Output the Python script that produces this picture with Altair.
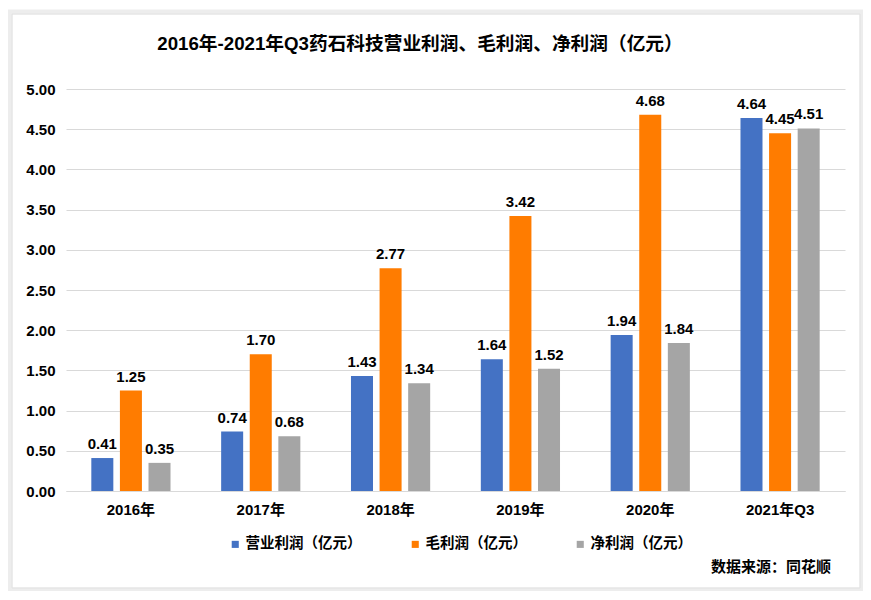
import altair as alt
import pandas as pd

years = ["2016年", "2017年", "2018年", "2019年", "2020年", "2021年Q3"]
series = ["营业利润（亿元）", "毛利润（亿元）", "净利润（亿元）"]
op_profit = [0.41, 0.74, 1.43, 1.64, 1.94, 4.64]
gross_profit = [1.25, 1.70, 2.77, 3.42, 4.68, 4.45]
net_profit = [0.35, 0.68, 1.34, 1.52, 1.84, 4.51]
colors = ["#4472C4", "#FF7C00", "#A5A5A5"]
y_ticks = [0, 0.5, 1, 1.5, 2, 2.5, 3, 3.5, 4, 4.5, 5]

rows = []
for i, y in enumerate(years):
    for s, vals in zip(series, [op_profit, gross_profit, net_profit]):
        rows.append({"year": y, "series": s, "value": vals[i]})
df = pd.DataFrame(rows)

FONT = "Liberation Sans, Noto Sans CJK SC, sans-serif"
W, H = 779, 402

x = alt.X("year:N", sort=years, title=None,
          scale=alt.Scale(paddingInner=0.39, paddingOuter=0.195),
          axis=alt.Axis(labelAngle=0, labelFontWeight="bold", labelFontSize=15,
                        labelColor="#000", labelPadding=11, ticks=False,
                        domainColor="#d9d9d9", grid=False, labelFont=FONT))
xo = alt.XOffset("series:N", sort=series, scale=alt.Scale(paddingInner=0.23))
y = alt.Y("value:Q", title=None,
          scale=alt.Scale(domain=[0, 5], nice=False),
          axis=alt.Axis(values=y_ticks, format=".2f", labelFontWeight="bold",
                        labelFontSize=15, labelColor="#000", labelPadding=11,
                        ticks=False, domain=False, gridColor="#d9d9d9", labelFont=FONT))
color = alt.Color("series:N", sort=series,
                  scale=alt.Scale(domain=series, range=colors),
                  legend=alt.Legend(title=None, orient="none", direction="horizontal",
                                    legendX=162, legendY=448, symbolType="square",
                                    symbolSize=50, symbolStrokeWidth=0,
                                    labelFontSize=14.5, labelFontWeight="bold",
                                    labelFont=FONT, labelColor="#000",
                                    columnPadding=46, symbolOffset=0, labelOffset=3))

base = alt.Chart(df)
bars = base.mark_bar().encode(x=x, xOffset=xo, y=y, color=color)
labels = base.mark_text(dy=-9, fontSize=15, fontWeight="bold", font=FONT,
                        color="#000", baseline="alphabetic").encode(
    x=alt.X("year:N", sort=years), xOffset=xo, y="value:Q",
    text=alt.Text("value:Q", format=".2f"))

frame_df = pd.DataFrame({"k": [0]})
shadow = alt.Chart(frame_df).mark_rect(fill=None, stroke="#ededed", strokeWidth=5).encode(
    x=alt.value(-56), x2=alt.value(796), y=alt.value(-77), y2=alt.value(501))
frame = alt.Chart(frame_df).mark_rect(fill=None, stroke="#e2e2e2", strokeWidth=1).encode(
    x=alt.value(-54), x2=alt.value(794), y=alt.value(-75), y2=alt.value(499))

title_df = pd.DataFrame({"t": ["2016年-2021年Q3药石科技营业利润、毛利润、净利润（亿元）"]})
title = alt.Chart(title_df).mark_text(fontSize=18.7, fontWeight="bold", font=FONT,
                                      color="#000", align="center", baseline="middle").encode(
    x=alt.value(354), y=alt.value(-45), text="t:N")

src_df = pd.DataFrame({"t": ["数据来源：同花顺"]})
source = alt.Chart(src_df).mark_text(fontSize=15, fontWeight="bold", font=FONT,
                                     color="#000", align="right", baseline="middle").encode(
    x=alt.value(765), y=alt.value(478), text="t:N")

chart = alt.layer(shadow, frame, bars, labels, title, source).properties(
    width=W, height=H,
    autosize=alt.AutoSizeParams(type="none"),
    padding={"left": 58, "top": 81, "right": 18, "bottom": 100},
    background="white",
).configure_view(stroke=None)

chart.save("out.html", embed_options={"renderer": "svg", "actions": False})
